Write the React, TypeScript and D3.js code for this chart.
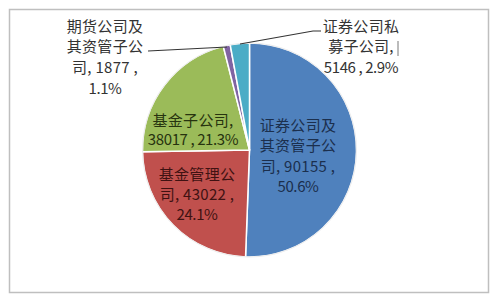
import React from "react";
import * as d3 from "d3";

const categories = ["证券公司及其资管子公司", "基金管理公司", "基金子公司", "期货公司及其资管子公司", "证券公司私募子公司"];
const values = [90155, 43022, 38017, 1877, 5146];
const percents = ["50.6%", "24.1%", "21.3%", "1.1%", "2.9%"];
const colors = ["#4F81BD", "#C0504D", "#9BBB59", "#8064A2", "#4BACC6"];

const labelLines: string[][] = [
  ["证券公司及", "其资管子公", `司, ${values[0]} ,`, percents[0]],
  ["基金管理公", `司, ${values[1]} ,`, percents[1]],
  ["基金子公司,", `${values[2]} , ${percents[2]}`],
  ["期货公司及", "其资管子公", `司, ${values[3]} ,`, percents[3]],
  ["证券公司私", "募子公司,", `${values[4]} , ${percents[4]}`],
];

const labelLayout = [
  { x: 298, y: 124, dy: 20.5, fill: "#1b2f4d" },
  { x: 197, y: 173, dy: 20, fill: "#3f1212" },
  { x: 193, y: 119, dy: 19.5, fill: "#27330f" },
  { x: 105, y: 25, dy: 20.7, fill: "#333" },
  { x: 361, y: 25, dy: 20.5, fill: "#333" },
];

const hasCJK = (s: string) => /[\u4e00-\u9fff]/.test(s);

export default function App() {
  const W = 500, H = 299;
  const cx = 249.5, cy = 150, R = 107;
  const pie = d3.pie<number>().sort(null).value((d) => d);
  const arcs = pie(values);
  const arc = d3.arc<d3.PieArcDatum<number>>().innerRadius(0).outerRadius(R);
  const line = d3.line();
  return (
    <svg width={W} height={H} style={{ position: "absolute", left: 0, top: 0, background: "#fff" }}
      fontFamily="'Noto Sans CJK SC', 'Noto Sans', sans-serif">
      <rect x={9.5} y={9.5} width={479} height={283} fill="#fff" stroke="#bfbfbf" strokeWidth={1.5} />
      <g transform={`translate(${cx},${cy})`}>
        {arcs.map((a, i) => (
          <path key={categories[i]} d={arc(a) || ""} fill={colors[i]} stroke="#fff" strokeWidth={1.5} />
        ))}
        <circle r={R} fill="none" stroke="#e6e6e6" strokeWidth={0.8} />
      </g>
      <path d={line([[148, 51], [227, 47]]) || ""} fill="none" stroke="#333" strokeWidth={1.1} />
      <path d={line([[240, 44], [313, 31], [321, 31]]) || ""} fill="none" stroke="#333" strokeWidth={1.1} />
      <path d={line([[398, 41], [398, 56]]) || ""} fill="none" stroke="#555" strokeWidth={0.8} />
      {labelLines.map((lines, i) => (
        <text key={i} textAnchor="middle" fontSize={15} fill={labelLayout[i].fill}>
          {lines.map((t, j) => (
            <tspan key={j} x={labelLayout[i].x} y={labelLayout[i].y + j * labelLayout[i].dy}
              dominantBaseline="central" letterSpacing={hasCJK(t) ? 0.3 : -0.4}>
              {t}
            </tspan>
          ))}
        </text>
      ))}
    </svg>
  );
}
